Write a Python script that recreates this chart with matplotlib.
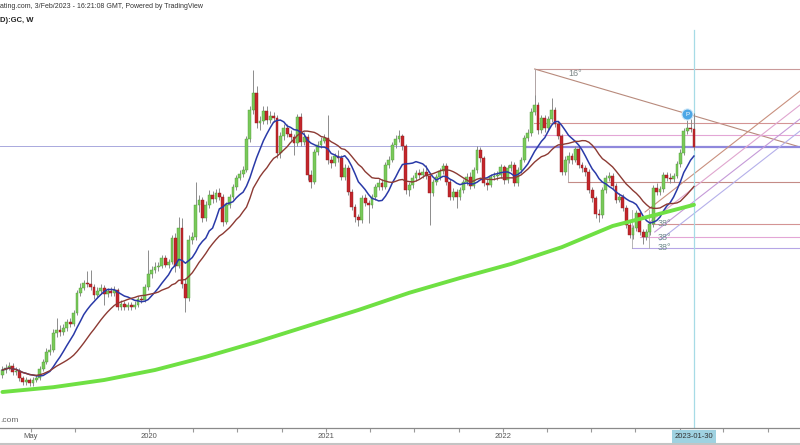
import numpy as np
import pandas as pd
import matplotlib
matplotlib.use('Agg')
import matplotlib.pyplot as plt
import matplotlib.dates as mdates

plt.rcParams['font.family'] = ['Liberation Sans', 'DejaVu Sans']

# weekly GC candles, Mar 2019 .. Jan 2023
dates = pd.date_range(end='2023-01-30', periods=205, freq='7D')
first_open = 1362
close = [
    1375, 1380, 1385, 1370, 1372, 1355, 1345, 1350, 1342, 1350,
    1355, 1378, 1395, 1420, 1425, 1468, 1475, 1470, 1480, 1495,
    1490, 1518, 1568, 1580, 1592, 1590, 1582, 1562, 1572, 1580,
    1565, 1572, 1568, 1575, 1532, 1540, 1532, 1538, 1532, 1538,
    1552, 1550, 1582, 1615, 1625, 1632, 1635, 1655, 1638, 1645,
    1705, 1635, 1730, 1590, 1555, 1700, 1708, 1788, 1800, 1755,
    1788, 1812, 1802, 1818, 1808, 1745, 1788, 1808, 1832, 1855,
    1865, 1875, 1952, 2025, 2068, 1992, 1998, 2022, 2000, 2010,
    2005, 1918, 1960, 1980, 1965, 1958, 1942, 2008, 1945, 1958,
    1862, 1845, 1920, 1938, 1948, 1955, 1900, 1892, 1910, 1905,
    1858, 1880, 1820, 1782, 1758, 1750, 1805, 1792, 1788, 1808,
    1832, 1842, 1832, 1888, 1900, 1938, 1952, 1960, 1935, 1825,
    1838, 1855, 1868, 1862, 1870, 1860, 1818, 1845, 1858, 1872,
    1885, 1845, 1808, 1820, 1808, 1825, 1845, 1858, 1835, 1875,
    1925, 1905, 1842, 1838, 1858, 1860, 1862, 1882, 1850, 1880,
    1888, 1842, 1875, 1900, 1955, 1968, 2020, 2038, 1975, 2005,
    1980, 2002, 2025, 1990, 1960, 1870, 1900, 1910, 1900, 1928,
    1888, 1880, 1870, 1825, 1805, 1765, 1762, 1825, 1855, 1860,
    1835, 1800, 1808, 1780, 1738, 1712, 1730, 1768, 1720, 1708,
    1720, 1740, 1830, 1820, 1828, 1862, 1855, 1852, 1860, 1890,
    1918, 1972, 1980, 1978, 1932]
high = [
    1385, 1390, 1395, 1392, 1382, 1380, 1360, 1358, 1356, 1358,
    1362, 1385, 1402, 1430, 1440, 1478, 1505, 1488, 1490, 1502,
    1505, 1525, 1575, 1592, 1600, 1622, 1625, 1590, 1582, 1590,
    1588, 1580, 1582, 1585, 1580, 1550, 1548, 1545, 1545, 1548,
    1560, 1560, 1590, 1675, 1635, 1645, 1645, 1662, 1662, 1652,
    1712, 1718, 1758, 1755, 1605, 1712, 1720, 1845, 1812, 1808,
    1798, 1825, 1822, 1828, 1830, 1815, 1795, 1815, 1840, 1862,
    1875, 1885, 1960, 2035, 2125, 2085, 2010, 2035, 2035, 2022,
    2020, 2012, 1970, 1990, 1990, 1975, 1965, 2015, 2017, 1970,
    1965, 1875, 1928, 1948, 1958, 1965, 2012, 1910, 1918, 1925,
    1912, 1890, 1888, 1828, 1790, 1765, 1812, 1815, 1800, 1815,
    1840, 1852, 1852, 1895, 1910, 1945, 1962, 1975, 1965, 1940,
    1845, 1862, 1875, 1878, 1880, 1888, 1868, 1852, 1866, 1880,
    1892, 1892, 1852, 1830, 1828, 1832, 1852, 1868, 1870, 1882,
    1935, 1932, 1910, 1852, 1865, 1870, 1872, 1890, 1888, 1888,
    1898, 1895, 1882, 1908, 1962, 1978, 2030, 2062, 2045, 2012,
    2012, 2010, 2055, 2032, 1998, 1965, 1910, 1920, 1918, 1935,
    1935, 1895, 1888, 1878, 1832, 1810, 1778, 1832, 1862, 1870,
    1868, 1842, 1818, 1815, 1788, 1745, 1738, 1775, 1775, 1728,
    1728, 1748, 1838, 1842, 1835, 1870, 1870, 1868, 1868, 1898,
    1928, 1980, 2000, 2002, 2018]
low = [
    1355, 1368, 1375, 1362, 1362, 1348, 1338, 1338, 1335, 1336,
    1344, 1350, 1372, 1390, 1412, 1420, 1458, 1460, 1462, 1472,
    1482, 1485, 1512, 1560, 1575, 1582, 1575, 1552, 1555, 1565,
    1538, 1558, 1560, 1560, 1525, 1525, 1525, 1525, 1525, 1528,
    1532, 1542, 1545, 1575, 1605, 1618, 1622, 1630, 1632, 1630,
    1640, 1620, 1630, 1580, 1520, 1548, 1690, 1700, 1770, 1745,
    1748, 1780, 1792, 1795, 1800, 1735, 1740, 1780, 1802, 1825,
    1850, 1858, 1870, 1945, 2015, 1980, 1975, 1990, 1990, 1992,
    1995, 1905, 1905, 1950, 1958, 1948, 1912, 1935, 1935, 1938,
    1850, 1830, 1840, 1912, 1930, 1942, 1890, 1880, 1885, 1895,
    1850, 1850, 1812, 1775, 1745, 1735, 1742, 1785, 1742, 1780,
    1800, 1825, 1825, 1828, 1880, 1895, 1930, 1945, 1925, 1815,
    1810, 1830, 1848, 1855, 1855, 1852, 1738, 1810, 1838, 1850,
    1865, 1838, 1800, 1800, 1780, 1800, 1818, 1838, 1828, 1830,
    1868, 1895, 1835, 1825, 1832, 1850, 1850, 1855, 1840, 1842,
    1872, 1835, 1835, 1868, 1895, 1948, 1960, 2012, 1965, 1968,
    1970, 1972, 1995, 1982, 1952, 1862, 1862, 1892, 1890, 1895,
    1880, 1870, 1860, 1818, 1795, 1755, 1745, 1755, 1818, 1848,
    1828, 1792, 1795, 1772, 1730, 1705, 1702, 1722, 1712, 1690,
    1700, 1712, 1732, 1812, 1812, 1820, 1848, 1842, 1845, 1855,
    1882, 1912, 1965, 1970, 1925]

# long moving average (green), read at a few weeks
ma_long_weeks = [0, 15, 30, 45, 60, 75, 90, 105, 120, 135, 150, 165, 180, 195, 204]
ma_long_vals = [1320, 1332, 1350, 1375, 1408, 1445, 1485, 1525, 1568, 1605,
                1640, 1682, 1735, 1768, 1788]

# drawing tool levels
level_thin = 1935
fan_top = ('2022-03-07', 2127.5)
fan_end = ('2023-09-06', 1932.5)
upper_levels = [('2022-03-05', 1992.5, '#d49494'), ('2022-03-24', 1962.5, '#e3a6d6'),
                ('2022-02-20', 1932.5, '#8f88dc'), ('2022-05-15', 1845, '#c48b86')]
lower_levels = [('2022-11-04', 1740, '#d49494'), ('2022-10-11', 1707.5, '#e3a6d6'),
                ('2022-09-24', 1680, '#b6a6e6')]
diag_lines = [('2022-10-21', 1770, 2072.5, '#c9907e'), ('2022-10-31', 1745, 2037.5, '#e0a6cf'),
              ('2022-11-10', 1720, 2002.5, '#c59ad8'), ('2022-11-21', 1700, 1972.5, '#b5b0ea')]

tick_dates = ['2019-05-01', '2019-08-01', '2020-01-01', '2020-04-01', '2020-07-01', '2020-10-01',
              '2021-01-01', '2021-04-01', '2021-07-01', '2021-10-01', '2022-01-01', '2022-04-01',
              '2022-07-01', '2022-10-01', '2023-01-01', '2023-04-01', '2023-07-01']
label_dates = ['2019-05-01', '2020-01-01', '2021-01-01', '2022-01-01']
label_texts = ['May', '2020', '2021', '2022']

opens = [first_open] + close[:-1]
cl = pd.Series(close)
ma_fast = cl.rolling(10, min_periods=1).mean()
ma_slow = cl.rolling(20, min_periods=1).mean()

fig = plt.figure(figsize=(8, 4.45), dpi=100)
ax = fig.add_axes([0, 17 / 445, 1, 428 / 445])
x0 = pd.Timestamp('2019-02-27')
x1 = pd.Timestamp('2023-09-06')
ax.set_xlim(x0, x1)
ax.set_ylim(1230, 2300)
ax.axis('off')

xd = mdates.date2num(dates)
o = np.array(opens, dtype=float)
c = np.array(close, dtype=float)
up = c >= o
ax.vlines(xd, low, high, color='#8c8c8c', lw=0.7, zorder=2)
body_h = np.maximum(np.abs(c - o), 1.5)
ax.bar(xd[up], body_h[up], bottom=np.minimum(o, c)[up], width=5.8,
       color='#79c95a', edgecolor='#4e9b37', lw=0.3, zorder=3)
ax.bar(xd[~up], body_h[~up], bottom=np.minimum(o, c)[~up], width=5.8,
       color='#c4262b', edgecolor='#8e1a1d', lw=0.3, zorder=3)

ax.plot(dates, ma_fast, color='#2a3aa8', lw=1.1, zorder=4)
ax.plot(dates, ma_slow, color='#8c3a33', lw=1.0, zorder=4)
ax.plot(dates[ma_long_weeks], ma_long_vals, color='#6fe043', lw=2.8, zorder=4,
        solid_capstyle='round')

# drawings
ax.axhline(level_thin, color='#a9a9dd', lw=0.7, zorder=1)
ax.plot([pd.Timestamp(fan_top[0]), x1], [fan_top[1], fan_top[1]], color='#c99a9a', lw=0.8, zorder=1)
ax.plot([pd.Timestamp(fan_top[0]), pd.Timestamp(fan_end[0])], [fan_top[1], fan_end[1]],
        color='#b88a7c', lw=0.8, zorder=1)
ax.plot([pd.Timestamp(fan_top[0])] * 2, [fan_top[1], 2050], color='#b0a4a4', lw=0.7, zorder=1)
ax.text(pd.Timestamp('2022-05-29'), fan_top[1], '16°', fontsize=6.5, color='#7a8585',
        ha='center', va='top')
for d, v, col in upper_levels:
    w = 1.6 if v == 1932.5 else 0.8
    ax.plot([pd.Timestamp(d), x1], [v, v], color=col, lw=w, zorder=1)
ax.plot([pd.Timestamp('2022-05-15')] * 2, [1900, 1845], color='#b0a4a4', lw=0.6, zorder=1)
for d, v, col in lower_levels:
    ax.plot([pd.Timestamp(d), x1], [v, v], color=col, lw=0.8, zorder=1)
    ax.text(pd.Timestamp('2022-12-01'), v, '38°', fontsize=6.5, color='#6f8b8b',
            ha='center', va='center', zorder=5)
for d in ['2022-09-24', '2022-10-29']:
    ax.plot([pd.Timestamp(d)] * 2, [1775, 1680], color='#aaaaaa', lw=0.6, zorder=1)
for d, v0, v1, col in diag_lines:
    ax.plot([pd.Timestamp(d), x1], [v0, v1], color=col, lw=0.8, zorder=1)

ax.axvline(dates[-1], ymin=0, ymax=0.93, color='#a6dbe6', lw=0.9, zorder=1)
ax.plot(dates[202], 2015, 'o', ms=8, mfc='#4da7e6', mec='#cfe8f8', mew=0.8, zorder=6)
ax.text(dates[202], 2015, 'P', fontsize=4.5, color='white', ha='center', va='center', zorder=7)

fig.text(0.0, 1 - 7 / 445, 'ating.com, 3/Feb/2023 - 16:21:08 GMT, Powered by TradingView',
         fontsize=5, color='#333333', va='center', ha='left')
fig.text(0.0, 1 - 20 / 445, 'D):GC, W', fontsize=5.5, color='#222222', weight='bold',
         va='center', ha='left')
fig.text(0.0, 1 - 420 / 445, '.com', fontsize=6, color='#666666', va='center', ha='left')

# time scale strip
ax_t = fig.add_axes([0, 0, 1, 17 / 445])
ax_t.set_xlim(x0, x1)
ax_t.set_ylim(0, 1)
for s in ['left', 'right', 'bottom']:
    ax_t.spines[s].set_visible(False)
ax_t.spines['top'].set_color('#8a8a8a')
ax_t.spines['top'].set_linewidth(0.9)
ax_t.set_yticks([])
ax_t.xaxis.set_ticks_position('top')
ax_t.set_xticks([pd.Timestamp(d) for d in tick_dates])
ax_t.tick_params(axis='x', direction='in', length=3, color='#999999',
                 labeltop=False, labelbottom=False)
for d, s in zip(label_dates, label_texts):
    ax_t.text(pd.Timestamp(d), 0.5, s, fontsize=5.5, color='#555555', ha='center', va='center')
# "2023" label mostly hidden behind the cursor box, only its first digit shows
ax_t.text(pd.Timestamp('2022-12-24'), 0.5, '2', fontsize=5.5, color='#555555',
          ha='right', va='center')
ax_t.text(dates[-1], 0.5, '2023-01-30', fontsize=5.5, color='#333333', ha='center', va='center',
          bbox=dict(boxstyle='square,pad=0.35', fc='#9fd2e1', ec='none'), zorder=5)
ax_t.axhline(0.06, color='#c4c4c4', lw=1.5)

fig.savefig('out.png', dpi=100, facecolor='white')
